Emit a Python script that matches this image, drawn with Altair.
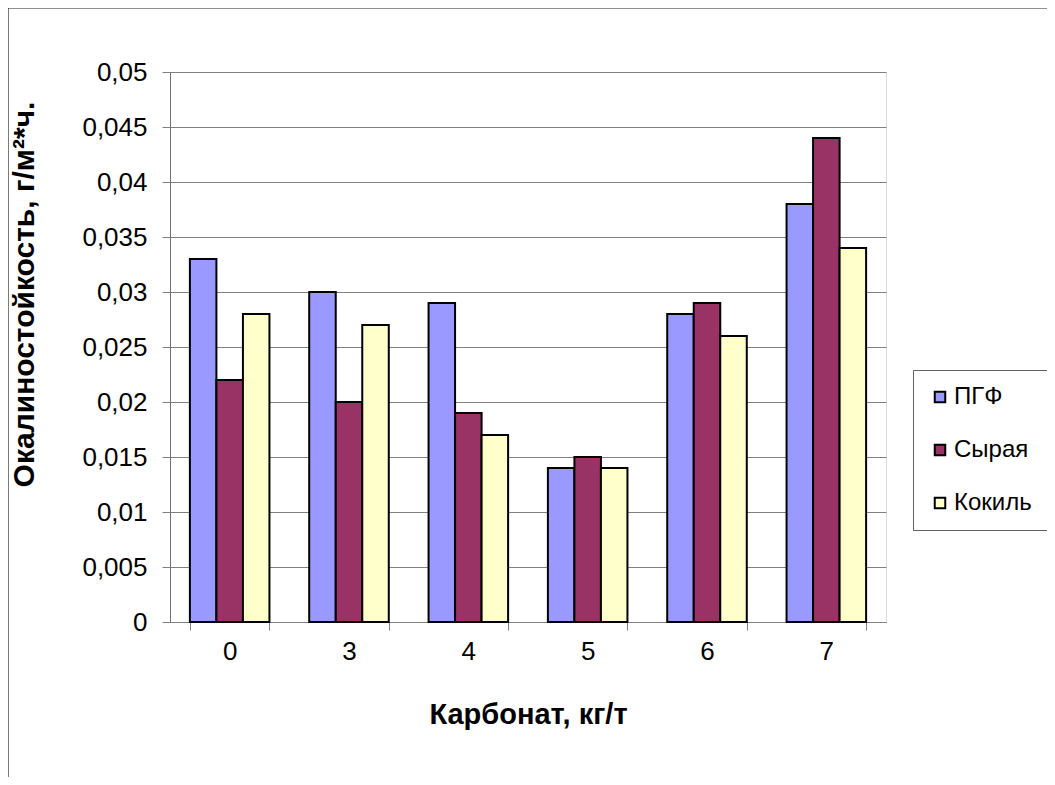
import altair as alt
import pandas as pd

categories = ["0", "3", "4", "5", "6", "7"]
series = ["ПГФ", "Сырая", "Кокиль"]
pgf = [0.033, 0.030, 0.029, 0.014, 0.028, 0.038]
syraya = [0.022, 0.020, 0.019, 0.015, 0.029, 0.044]
kokil = [0.028, 0.027, 0.017, 0.014, 0.026, 0.034]
colors = ["#9999FF", "#993366", "#FFFFCC"]
y_ticks = [0, 0.005, 0.01, 0.015, 0.02, 0.025, 0.03, 0.035, 0.04, 0.045, 0.05]

rows = []
for s, vals in zip(series, [pgf, syraya, kokil]):
    for c, v in zip(categories, vals):
        rows.append({"cat": c, "series": s, "value": v})
df = pd.DataFrame(rows)

FONT = "Liberation Sans"

bars = alt.Chart(df).mark_bar(stroke="black", strokeWidth=2).encode(
    x=alt.X("cat:N", sort=categories,
            scale=alt.Scale(paddingInner=1/3, paddingOuter=1/6),
            axis=alt.Axis(title="Карбонат, кг/т", labelAngle=0, tickBand="extent",
                          labelFontSize=26, titleFontSize=29, titleFontWeight="bold",
                          labelPadding=8, titlePadding=36, tickSize=8,
                          domainColor="#808080", tickColor="#808080",
                          labelColor="black", titleColor="black")),
    xOffset=alt.XOffset("series:N", sort=series),
    y=alt.Y("value:Q", scale=alt.Scale(domain=[0, 0.05]),
            axis=alt.Axis(title="Окалиностойкость, г/м²*ч.", values=y_ticks,
                          labelExpr="replace(format(datum.value, '~g'), '.', ',')",
                          labelFontSize=26, titleFontSize=30, titleFontWeight="bold",
                          labelPadding=15, titlePadding=42, tickSize=8,
                          titleY=222, titleAlign="center",
                          grid=True, gridColor="#808080", gridWidth=1,
                          domainColor="#707070", tickColor="#808080",
                          labelColor="black", titleColor="black")),
    color=alt.Color("series:N", sort=series,
                    scale=alt.Scale(domain=series, range=colors),
                    legend=alt.Legend(title=None, orient="none", legendX=743, legendY=298,
                                      symbolType="square", symbolSize=110,
                                      symbolStrokeColor="black", symbolStrokeWidth=2,
                                      labelFontSize=24, rowPadding=29, labelOffset=2,
                                      padding=15, strokeColor="#606060",
                                      fillColor="white", labelColor="black")),
)

frame = alt.Chart(pd.DataFrame({"a": [0]})).mark_rect(
    fill=None, stroke="#222222", strokeWidth=1.2, clip=False
).encode(x=alt.value(-162), x2=alt.value(1200), y=alt.value(-64), y2=alt.value(900))

chart = alt.layer(frame, bars).properties(
    width=716, height=550,
    autosize=alt.AutoSizeParams(type="none"),
    padding={"left": 162, "top": 64, "right": 161, "bottom": 155},
).configure_view(stroke="#808080", strokeWidth=1.5).configure(font=FONT)

chart.save("out.html", embed_options={"renderer": "svg", "actions": False})
